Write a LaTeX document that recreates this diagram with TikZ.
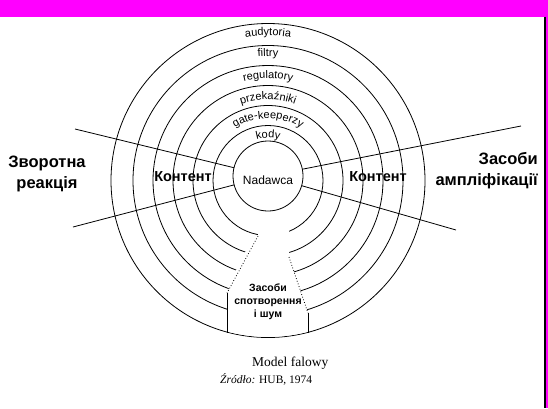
\documentclass[tikz,border=0pt]{standalone}
\usepackage{fontspec}
\setmainfont{Liberation Sans}
\newfontfamily\serifcap{Liberation Serif}
\usetikzlibrary{decorations.text,calc}
\definecolor{mag}{RGB}{255,0,255}
\newcommand{\lblfont}{\fontsize{11}{12}\selectfont}
\begin{document}
\begin{tikzpicture}[x=1pt,y=1pt,
  ring/.style={draw=black,line width=0.8pt},
  spoke/.style={draw=black,line width=0.8pt},
  big/.style={font=\bfseries\fontsize{16.5}{21}\selectfont,align=center,inner sep=0pt},
  kont/.style={font=\bfseries\fontsize{14.5}{16}\selectfont,inner sep=0pt},
  arclbl/.style={decorate,decoration={text along path,text align=center,text={|\lblfont|#1}}}]
\useasboundingbox (0,0) rectangle (548,-408);
\fill[white] (0,0) rectangle (548,-408);
\fill[mag] (0,0) rectangle (548,-16.7);
\fill[mag] (546,0) rectangle (548,-408);
\draw[line width=1.2pt] (545,-16.7) -- (545,-408);
\coordinate (C) at (268,-180.5);
\coordinate (C0) at (268,-176);
\draw[ring] (C0) circle (35pt);
\foreach \r in {55,75,95,115,135,157} \draw[ring] (C) circle (\r pt);
% spokes
\coordinate (UL) at (75,-129);
\coordinate (LL) at (73,-227);
\coordinate (UR) at (521,-126);
\coordinate (LR) at (456,-230);
\foreach \p in {UL,LL,UR,LR} \draw[spoke] ($(C0)!35pt!(\p)$) -- (\p);
% dome (noise region)
\begin{scope}
  \clip (C) circle (156.4pt);
  \fill[white] (258,-222) -- (258,-236) -- (242,-256) -- (227,-293) -- (227,-345) -- (308,-345) -- (308,-313) -- (289,-257) -- (289,-222) -- cycle;
\end{scope}
\coordinate (dl1) at (258,-236);
\coordinate (dl3) at (227,-293);
\coordinate (dl4) at (227,-333);
\coordinate (dr2) at (289,-257);
\coordinate (dr3) at (308,-313);
\coordinate (dr4) at (308,-333);
\draw[dotted,line width=0.8pt] (dl1) -- (dl3);
\draw[line width=0.8pt] (dl3) -- (dl4);
\draw[dotted,line width=0.8pt] (dr2) -- (dr3);
\draw[line width=0.8pt] (dr3) -- (dr4);
% ring labels
\path[arclbl={audytoria}] ([shift={(130:145pt)}]C) arc (130:50:145pt);
\path[arclbl={filtry}] ([shift={(130:124pt)}]C) arc (130:50:124pt);
\path[arclbl={regulatory}] ([shift={(140:102pt)}]C) arc (140:40:102pt);
\path[arclbl={przekaźniki}] ([shift={(150:81pt)}]C) arc (150:30:81pt);
\path[arclbl={gate-keeperzy}] ([shift={(170:62pt)}]C) arc (170:10:62pt);
\path[arclbl={kody}] ([shift={(160:42.5pt)}]C) arc (160:20:42.5pt);
% texts
\node (nad) at (268,-180) {\fontsize{12}{12}\selectfont Nadawca};
\node[kont] (k1) at (183,-177) {Контент};
\node[kont] (k2) at (378,-177) {Контент};
\node[big] (zr) at (47,-174) {Зворотна\\реакція};
\node[big,align=right,anchor=east] (za) at (538,-171) {Засоби\\ампліфікації};
\node[font=\bfseries\fontsize{10.5}{13}\selectfont,align=center,inner sep=0pt] (szum) at (268,-302) {Засоби\\спотворення\\і шум};
\node[anchor=west,font=\serifcap\fontsize{13.5}{14}\selectfont,inner sep=0pt] (cap1) at (252,-363) {Model falowy};
\node[anchor=west,font=\serifcap\fontsize{11.5}{13}\selectfont,inner sep=0pt] (cap2) at (220,-379) {\textit{Źródło:} HUB, 1974};
\end{tikzpicture}
\end{document}
